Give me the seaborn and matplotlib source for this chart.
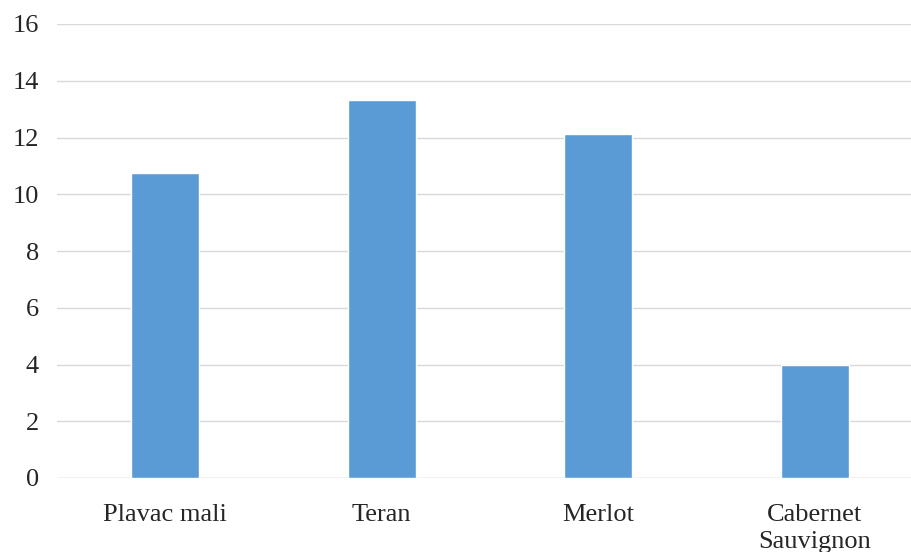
import numpy as np
import pandas as pd
import matplotlib
matplotlib.use('Agg')
import matplotlib.pyplot as plt
import seaborn as sns

# Chart data
varieties = ['Plavac mali', 'Teran', 'Merlot', 'Cabernet\nSauvignon']
values = [10.74, 13.32, 12.11, 4.0]

df = pd.DataFrame({'variety': varieties, 'value': values})

sns.set_style('white')
plt.rcParams['font.family'] = ['Liberation Serif', 'DejaVu Serif']

fig = plt.figure(figsize=(9.12, 5.52), dpi=100)
ax = fig.add_axes([57 / 912, 74 / 552, 866 / 912, 454 / 552])

sns.barplot(data=df, x='variety', y='value', color='#5B9BD5', saturation=1,
            width=0.315, ax=ax)

ax.set_ylim(0, 16)
ax.set_yticks(np.arange(0, 17, 2))
ax.set_xlim(-0.5, 3.5)
ax.yaxis.grid(True, color='#d9d9d9', linewidth=1)
ax.set_axisbelow(True)
for s in ['top', 'right', 'left', 'bottom']:
    ax.spines[s].set_visible(False)
ax.axhline(0, color='#d9d9d9', linewidth=1, zorder=0)
ax.set_xlabel('')
ax.set_ylabel('')
ax.tick_params(axis='both', length=0, labelsize=19, colors='#262626')
ax.tick_params(axis='y', pad=13)
ax.tick_params(axis='x', pad=19)
for lbl in ax.get_xticklabels():
    lbl.set_linespacing(1.3)

fig.savefig('out.png', dpi=100)
